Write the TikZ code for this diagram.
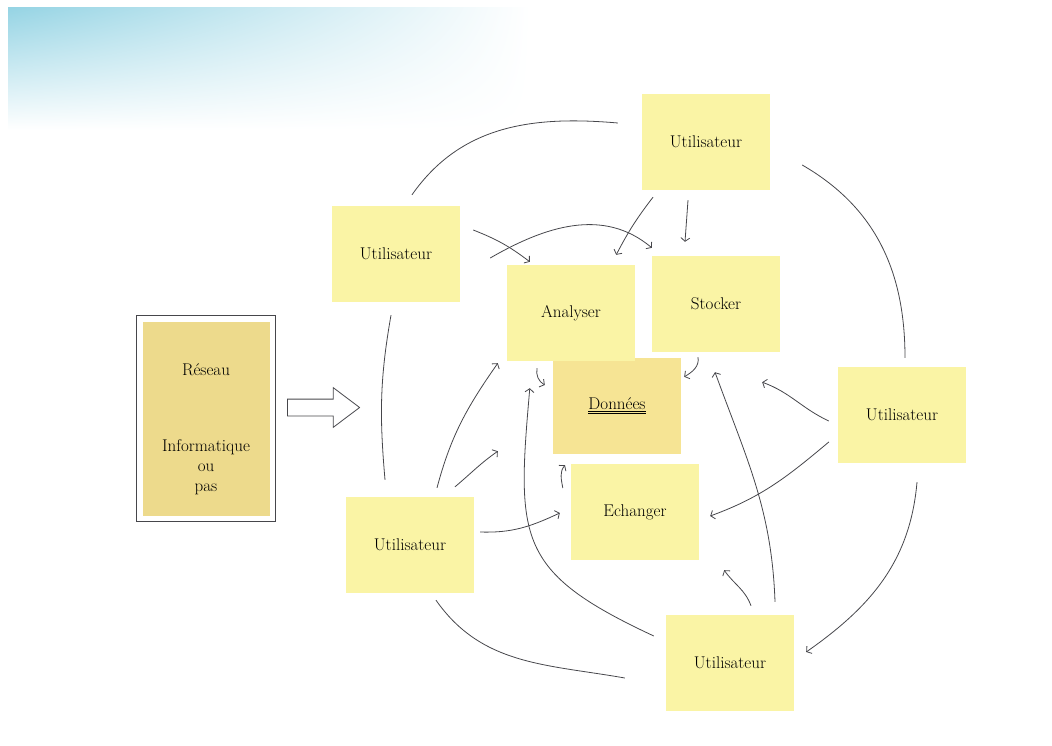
\documentclass[tikz,border=0pt]{standalone}
\usepackage{tikz}
\usetikzlibrary{arrows.meta, positioning, fit, shapes.arrows, shadings}

\definecolor{noteyellow}{RGB}{250,244,165}
\definecolor{noteorange}{RGB}{246,228,148}
\definecolor{notekhaki}{RGB}{237,218,140}
\definecolor{pencil}{RGB}{70,70,75}
\definecolor{scanblue}{RGB}{150,212,228}

\begin{document}
\begin{tikzpicture}[
    x=1pt, y=1pt,
    on grid,
    every node/.style={font=\fontsize{17}{20}\selectfont, align=center},
    note/.style={
        fill=noteyellow,
        minimum width=128pt,
        minimum height=96pt,
        inner sep=0pt
    },
    darknote/.style={
        note,
        fill=notekhaki,
        minimum width=127pt,
        minimum height=97pt
    },
    line/.style={
        draw=pencil,
        line width=0.8pt
    },
    arrow/.style={
        line,
        -{Straight Barb[length=3.5pt,width=9pt]}
    }
]

\useasboundingbox (0,0) rectangle (1052,-746);
\shade[upper left=scanblue, upper right=white, lower left=white, lower right=white]
    (8,-8) rectangle (530,-130);

\node[note, fill=noteorange] (donnees) at (617,-406) {\underline{\underline{Données}}};
\node[note, above left=93pt and 46pt of donnees] (analyser) {Analyser};
\node[note, above right=102pt and 99pt of donnees] (stocker) {Stocker};
\node[note, below right=106pt and 18pt of donnees] (echanger) {Echanger};

\node[note, above left=162pt and 10pt of stocker] (utop) {Utilisateur};
\node[note, above left=59pt and 175pt of analyser] (uleft) {Utilisateur};
\node[note, below right=9pt and 285pt of donnees] (uright) {Utilisateur};
\node[note, below left=33pt and 225pt of echanger] (ubl) {Utilisateur};
\node[note, below right=151pt and 95pt of echanger] (ubot) {Utilisateur};

\node[darknote, below left=116pt and 190pt of uleft] (reseau) {Réseau};
\node[darknote, below=97pt of reseau] (info) {Informatique\\ou\\pas};
\node[draw=pencil, line width=0.9pt, fit=(reseau)(info), inner sep=6pt] (frame) {};

\node[draw=pencil, line width=0.8pt, single arrow, single arrow head extend=11.5pt,
      single arrow tip angle=74, inner sep=8pt, minimum height=72pt,
      above right=11pt and 112pt of frame] (bigarrow) {};

\draw[line] ([xshift=16pt, yshift=11pt]uleft.north) to[out=55, in=175] ([xshift=-24pt, yshift=19pt]utop.west);
\draw[line] ([xshift=32pt, yshift=-23pt]utop.east) to[out=-30, in=90] ([xshift=3pt, yshift=9pt]uright.north);
\draw[line] ([xshift=-5pt, yshift=-13pt]uleft.south) to[out=-100, in=95] ([xshift=-25pt, yshift=17pt]ubl.north);
\draw[arrow] ([xshift=15pt, yshift=-19pt]uright.south) to[out=-95, in=35] ([xshift=12pt, yshift=11pt]ubot.east);
\draw[line] ([xshift=26pt, yshift=-7pt]ubl.south) to[out=-55, in=170] ([xshift=-41pt, yshift=-15pt]ubot.west);

\draw[arrow] ([xshift=13pt, yshift=24pt]uleft.east) to[bend left=8] ([xshift=23pt, yshift=3pt]analyser.north west);
\draw[arrow] ([xshift=30pt, yshift=-4pt]uleft.east) to[out=30, in=140] ([yshift=8pt]stocker.north west);
\draw[arrow] ([xshift=-53pt, yshift=-7pt]utop.south) to[bend right=5] ([xshift=-19pt, yshift=10pt]analyser.north east);
\draw[arrow] ([xshift=-18pt, yshift=-10pt]utop.south) -- ([xshift=-31pt, yshift=14pt]stocker.north);

\draw[arrow] ([xshift=-34pt, yshift=-7pt]analyser.south) to[out=-100, in=150] ([xshift=-8pt, yshift=21pt]donnees.west);
\draw[arrow] ([xshift=-18pt, yshift=-5pt]stocker.south) to[out=-80, in=30] ([xshift=3pt, yshift=-19pt]donnees.north east);
\draw[arrow] ([xshift=-8pt, yshift=24pt]echanger.west) to[out=100, in=-130] ([xshift=-52pt, yshift=-11pt]donnees.south);

\draw[arrow] ([xshift=27pt, yshift=9pt]ubl.north) to[out=75, in=-125] ([xshift=-9pt, yshift=-2pt]analyser.south west);
\draw[arrow] ([xshift=45pt, yshift=10pt]ubl.north) to[out=40, in=-145] ([xshift=-55pt, yshift=3pt]donnees.south west);
\draw[arrow] ([xshift=6pt, yshift=13pt]ubl.east) to[out=-2, in=-155] ([xshift=-11pt, yshift=-1pt]echanger.west);

\draw[arrow] ([xshift=-12pt, yshift=27pt]ubot.west) to[out=155, in=-95, looseness=1.4] ([xshift=23pt, yshift=-27pt]analyser.south west);
\draw[arrow] ([xshift=21pt, yshift=9pt]ubot.north) to[out=110, in=-55] ([xshift=25pt, yshift=-10pt]echanger.south east);
\draw[arrow] ([xshift=45pt, yshift=13pt]ubot.north) to[out=92, in=-70] ([xshift=-1pt, yshift=-20pt]stocker.south);

\draw[arrow] ([xshift=-9pt, yshift=-6pt]uright.west) to[out=155, in=-20] ([xshift=-18pt, yshift=-30pt]stocker.south east);
\draw[arrow] ([xshift=-9pt, yshift=-27pt]uright.west) to[out=-140, in=20] ([xshift=11pt, yshift=-4pt]echanger.east);

\end{tikzpicture}
\end{document}
